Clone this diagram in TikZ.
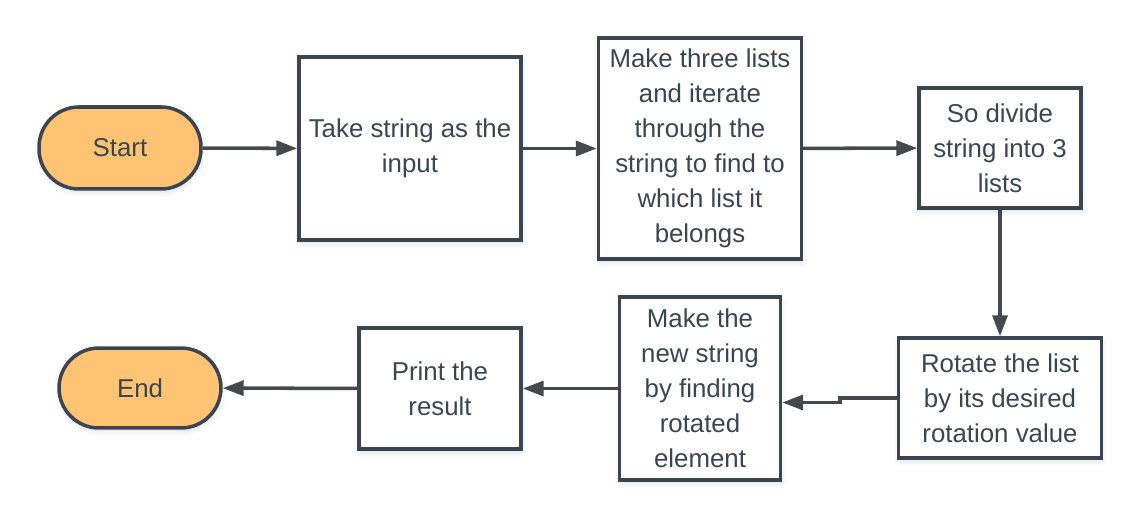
\documentclass[tikz,border=0pt]{standalone}
\usepackage{fontspec}
\setmainfont{Liberation Sans}
\usetikzlibrary{arrows.meta,positioning,shadows.blur}
\definecolor{inkSlate}{RGB}{59,68,80}
\definecolor{arrowGray}{RGB}{70,72,76}
\definecolor{termOrange}{RGB}{255,196,115}
\tikzset{
  stepbox/.style={draw=inkSlate,fill=white,line width=2pt,inner sep=0pt,align=flush center,text=inkSlate,font=\fontsize{14.7}{19.9}\selectfont,
    blur shadow={shadow xshift=0.5pt,shadow yshift=-2pt,shadow blur radius=3pt,shadow opacity=12}},
  terminal/.style={stepbox,fill=termOrange,rounded corners=0.8cm,minimum width=3.24cm},
  flow/.style={draw=arrowGray,line width=2pt,-{Triangle[length=0.42cm,width=0.3cm]}}
}
\begin{document}
\begin{tikzpicture}[x=0.02cm,y=-0.02cm]
\path[use as bounding box] (0,0) rectangle (1140,520);
% top row
\node[terminal,minimum height=1.64cm] (start) at (120,148) {Start};
\node[stepbox,minimum width=4.44cm,minimum height=3.66cm,text width=4.3cm] (take) at (410,148.5) {Take string as the input};
\node[stepbox,minimum width=4.06cm,minimum height=4.42cm,text width=3.8cm] (lists) at (700,148.5) {Make three lists and iterate through the string to find to which list it belongs};
\node[stepbox,minimum width=3.24cm,minimum height=2.4cm,text width=3.0cm] (divide) at (1000,148) {So divide string into 3 lists};

% bottom row
\node[stepbox,minimum width=4.06cm,minimum height=2.4cm,text width=3.5cm] (rotate) at (1000,398) {Rotate the list by its desired rotation value};
\node[stepbox,minimum width=3.22cm,minimum height=3.66cm,text width=2.7cm] (newstr) at (700,388.5) {Make the new string by finding rotated element};
\node[stepbox,minimum width=3.24cm,minimum height=2.42cm,text width=2.8cm] (print) at (440,388.5) {Print the result};
\node[terminal,minimum height=1.6cm] (end) at (140,388) {End};

\coordinate (jog) at (840,398);

\draw[flow] (start) -- (take);
\draw[flow] (take) -- (lists);
\draw[flow] (lists) -- (divide);
\draw[flow] (divide) -- (rotate);
\draw[flow] (rotate.west) -- (jog) |- ([yshift=-0.28cm]newstr.east);
\draw[flow] (newstr) -- (print);
\draw[flow] (print) -- (end);
\end{tikzpicture}
\end{document}
